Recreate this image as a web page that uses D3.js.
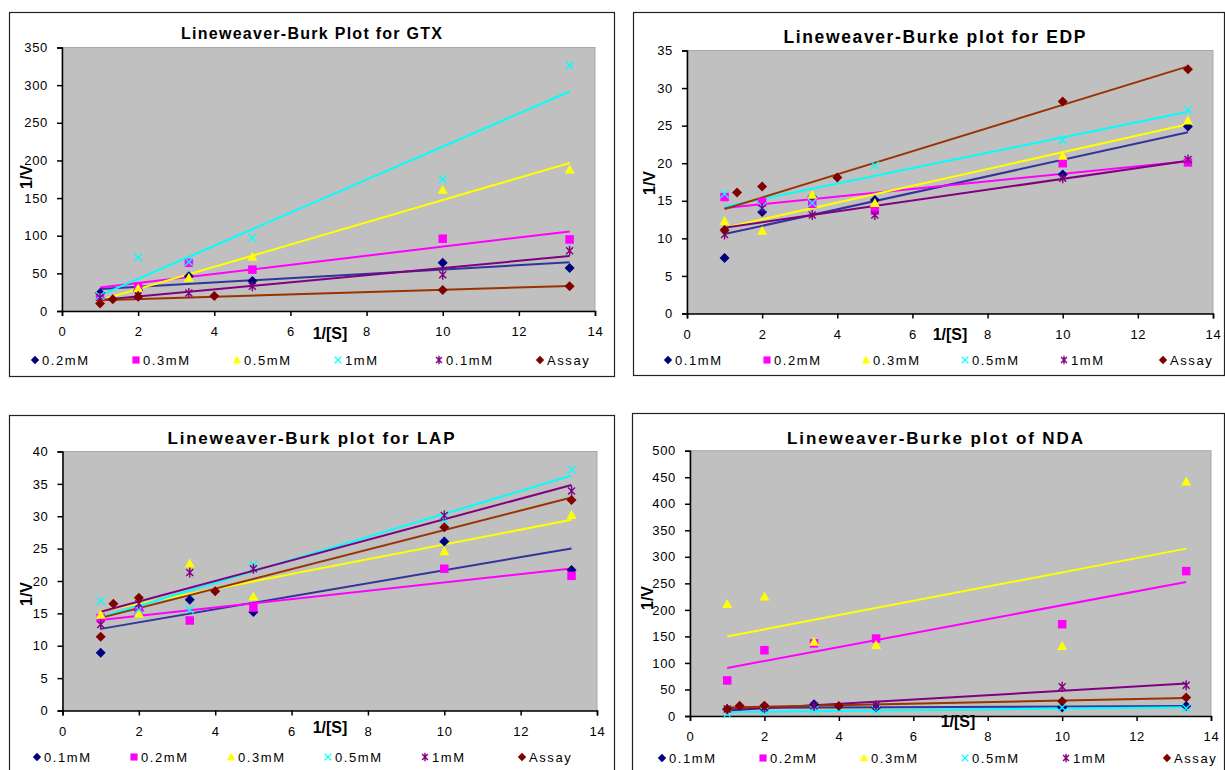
<!DOCTYPE html>
<html>
<head>
<meta charset="utf-8">
<script src="https://cdn.jsdelivr.net/npm/d3@7"></script>
<style>
  body { margin: 0; background: #fff; }
  svg text { font-family: "Liberation Sans", Arial, sans-serif; }
</style>
</head>
<body>
<svg id="chart" width="1225" height="770"></svg>
<script>
// Substrate reciprocals 1/[S] used by the inhibitor series and the assay series
const xSubstrate = [1, 2, 3.333, 5, 10, 13.333];
const xAssay = [1, 1.333, 2, 4, 10, 13.333];

const xTicks = [0, 2, 4, 6, 8, 10, 12, 14];

// GTX
const gtxLabels = ["0.2mM", "0.3mM", "0.5mM", "1mM", "0.1mM", "Assay"];
const gtx02 = [24, 27, 46, 40, 64, 57];
const gtx03 = [18, 32, 64, 55, 96, 95];
const gtx05 = [15, 30, 44, 72, 161, 188];
const gtx1 = [20, 71, 65, 97, 175, 326];
const gtx01 = [18, 20, 24, 33, 48, 80];
const gtxAssay = [10, 15.5, 19, 20, 28, 33];
const gtxYTicks = [0, 50, 100, 150, 200, 250, 300, 350];

// EDP
const edpLabels = ["0.1mM", "0.2mM", "0.3mM", "0.5mM", "1mM", "Assay"];
const edp01 = [7.4, 13.5, 15.5, 15.1, 18.5, 24.9];
const edp02 = [15.5, 14.8, 14.6, 13.7, 20, 20.1];
const edp03 = [12.3, 11.0, 15.8, 14.7, 21, 25.7];
const edp05 = [15.9, 14.2, 14.7, 19.7, 23.1, 27.1];
const edp1 = [10.5, 14, 13.1, 13.1, 18, 20.5];
const edpAssay = [11.1, 16.1, 16.9, 18.1, 28.2, 32.5];
const edpYTicks = [0, 5, 10, 15, 20, 25, 30, 35];

// LAP
const lapLabels = ["0.1mM", "0.2mM", "0.3mM", "0.5mM", "1mM", "Assay"];
const lap01 = [8.9, 15.5, 17.1, 15.2, 26.1, 21.7];
const lap02 = [14.3, 15.5, 13.9, 15.9, 21.9, 20.8];
const lap03 = [14.8, 15.0, 22.7, 17.6, 24.6, 30.2];
const lap05 = [16.9, 15.6, 15.6, 22.5, 29.5, 37.2];
const lap1 = [13.3, 16.5, 21.3, 21.9, 30.1, 33.9];
const lapAssay = [11.4, 16.5, 17.4, 18.4, 28.3, 32.5];
const lapYTicks = [0, 5, 10, 15, 20, 25, 30, 35, 40];

// NDA
const ndaLabels = ["0.1mM", "0.2mM", "0.3mM", "0.5mM", "1mM", "Assay"];
const nda01 = [12, 14, 22, 16, 16, 19];
const nda02 = [67, 124, 137, 146, 173, 273];
const nda03 = [211, 225, 140, 134, 132, 442];
const nda05 = [4, 9, 11, 11, 16, 14.5];
const nda1 = [13, 16, 19, 20, 55, 58];
const ndaAssay = [13, 19.5, 19.5, 19, 28, 35];
const ndaYTicks = [0, 50, 100, 150, 200, 250, 300, 350, 400, 450, 500];

// Series appearance, in legend order
const markerShapes = ["diamond", "square", "triangle", "cross", "star", "diamond"];
const markerColors = ["#000080", "#FF00FF", "#FFFF00", "#00FFFF", "#800080", "#800000"];
const trendColors = ["#333399", "#FF00FF", "#FFFF00", "#00FFFF", "#800080", "#993300"];

const panels = [
  { title: "Lineweaver-Burk Plot for GTX", labels: gtxLabels,
    series: [gtx02, gtx03, gtx05, gtx1, gtx01, gtxAssay], yTicks: gtxYTicks,
    box: [9, 12, 614, 376], px: [62, 595], py: [311, 47.5],
    titlePos: [311.5, 39, 16, 261], yTitle: [26, 177], xTitle: [330, 339], legend: [35, 101, 360] },
  { title: "Lineweaver-Burke plot for EDP", labels: edpLabels,
    series: [edp01, edp02, edp03, edp05, edp1, edpAssay], yTicks: edpYTicks,
    box: [633, 12, 1224, 375], px: [687, 1213], py: [313.5, 50.5],
    titlePos: [934.5, 43, 17.5, 302], yTitle: [649, 183], xTitle: [950, 340], legend: [668, 99, 360] },
  { title: "Lineweaver-Burk plot for LAP", labels: lapLabels,
    series: [lap01, lap02, lap03, lap05, lap1, lapAssay], yTicks: lapYTicks,
    box: [9, 415, 614, 790], px: [62.5, 597], py: [710.5, 451.5],
    titlePos: [311, 444, 17, 287], yTitle: [26, 594], xTitle: [330, 733], legend: [37, 97, 757] },
  { title: "Lineweaver-Burke plot of NDA", labels: ndaLabels,
    series: [nda01, nda02, nda03, nda05, nda1, ndaAssay], yTicks: ndaYTicks,
    box: [632, 413, 1224, 790], px: [690, 1211], py: [716, 450.7],
    titlePos: [935, 444, 17, 296], yTitle: [647, 598], xTitle: [958, 727], legend: [662, 101, 758] }
];

const svg = d3.select("#chart");

// Least-squares straight line through one series
function linearFit(xs, ys) {
  const mx = d3.mean(xs), my = d3.mean(ys);
  let sxy = 0, sxx = 0;
  xs.forEach((x, i) => { sxy += (x - mx) * (ys[i] - my); sxx += (x - mx) * (x - mx); });
  const slope = sxy / sxx;
  return { slope, intercept: my - slope * mx };
}

function drawMarker(g, shape, color, cx, cy, s) {
  if (shape === "diamond") {
    g.append("path").attr("d", `M${cx},${cy - s}L${cx + s},${cy}L${cx},${cy + s}L${cx - s},${cy}Z`)
      .attr("fill", color);
  } else if (shape === "square") {
    const h = s * 0.85;
    g.append("rect").attr("x", cx - h).attr("y", cy - h).attr("width", 2 * h).attr("height", 2 * h)
      .attr("fill", color);
  } else if (shape === "triangle") {
    g.append("path").attr("d", `M${cx},${cy - s}L${cx + s},${cy + s * 0.8}L${cx - s},${cy + s * 0.8}Z`)
      .attr("fill", color);
  } else if (shape === "cross") {
    const h = s * 0.8;
    g.append("path").attr("d", `M${cx - h},${cy - h}L${cx + h},${cy + h}M${cx - h},${cy + h}L${cx + h},${cy - h}`)
      .attr("stroke", color).attr("stroke-width", 1.3).attr("fill", "none");
  } else if (shape === "star") {
    const h = s * 0.7;
    g.append("path").attr("d", `M${cx - h},${cy - h}L${cx + h},${cy + h}M${cx - h},${cy + h}L${cx + h},${cy - h}M${cx},${cy - s}L${cx},${cy + s}`)
      .attr("stroke", color).attr("stroke-width", 1.4).attr("fill", "none");
  }
}

panels.forEach(p => {
  const g = svg.append("g");
  const [bx0, by0, bx1, by1] = p.box;

  // chart frame
  g.append("rect").attr("x", bx0 + 0.5).attr("y", by0 + 0.5)
    .attr("width", bx1 - bx0).attr("height", by1 - by0)
    .attr("fill", "#fff").attr("stroke", "#222").attr("stroke-width", 1.2);

  const x = d3.scaleLinear().domain([0, 14]).range(p.px);
  const yMax = p.yTicks[p.yTicks.length - 1];
  const y = d3.scaleLinear().domain([0, yMax]).range(p.py);

  // plot area
  g.append("rect").attr("x", x(0)).attr("y", y(yMax))
    .attr("width", x(14) - x(0)).attr("height", y(0) - y(yMax))
    .attr("fill", "#C0C0C0").attr("stroke", "#a8a8a8").attr("stroke-width", 1);

  // axes
  const xAxis = d3.axisBottom(x).tickValues(xTicks).tickSize(5).tickPadding(11)
    .tickFormat(d3.format("d"));
  const yAxis = d3.axisLeft(y).tickValues(p.yTicks).tickSize(5).tickPadding(9)
    .tickFormat(d3.format("d"));

  const gx = g.append("g").attr("transform", `translate(0,${y(0)})`).call(xAxis);
  const gy = g.append("g").attr("transform", `translate(${x(0)},0)`).call(yAxis);
  [gx, gy].forEach(a => {
    a.select(".domain").attr("stroke", "#000").attr("stroke-width", 1.5);
    a.selectAll(".tick line").attr("stroke", "#000").attr("stroke-width", 1.5);
    a.selectAll("text").attr("font-size", 13).attr("fill", "#000")
      .attr("letter-spacing", 0.7)
      .attr("font-family", "'Liberation Sans', Arial, sans-serif");
  });

  // trendlines
  p.series.forEach((ys, i) => {
    const xs = i === 5 ? xAssay : xSubstrate;
    const fit = linearFit(xs, ys);
    const xa = d3.min(xs), xb = d3.max(xs);
    g.append("line")
      .attr("x1", x(xa)).attr("y1", y(fit.intercept + fit.slope * xa))
      .attr("x2", x(xb)).attr("y2", y(fit.intercept + fit.slope * xb))
      .attr("stroke", trendColors[i]).attr("stroke-width", 2);
  });

  // data markers
  p.series.forEach((ys, i) => {
    const xs = i === 5 ? xAssay : xSubstrate;
    ys.forEach((v, j) => drawMarker(g, markerShapes[i], markerColors[i], x(xs[j]), y(v), 5));
  });

  // titles
  const [tx, ty, tsize, tlen] = p.titlePos;
  g.append("text").attr("x", tx).attr("y", ty)
    .attr("text-anchor", "middle").attr("font-size", tsize).attr("font-weight", "bold")
    .attr("textLength", tlen).attr("lengthAdjust", "spacing").text(p.title);
  g.append("text").attr("x", p.xTitle[0]).attr("y", p.xTitle[1])
    .attr("text-anchor", "middle").attr("font-size", 16).attr("font-weight", "bold")
    .text("1/[S]");
  g.append("text")
    .attr("transform", `translate(${p.yTitle[0]},${p.yTitle[1]}) rotate(-90)`)
    .attr("text-anchor", "middle").attr("dy", "0.35em")
    .attr("font-size", 16).attr("font-weight", "bold").text("1/V");

  // legend
  const [lx, lstep, ly] = p.legend;
  p.labels.forEach((lab, i) => {
    const cx = lx + i * lstep;
    drawMarker(g, markerShapes[i], markerColors[i], cx, ly, 4.2);
    g.append("text").attr("x", cx + 7).attr("y", ly).attr("dy", "0.36em")
      .attr("font-size", 13).attr("letter-spacing", 1.6).text(lab);
  });
});
</script>
</body>
</html>
